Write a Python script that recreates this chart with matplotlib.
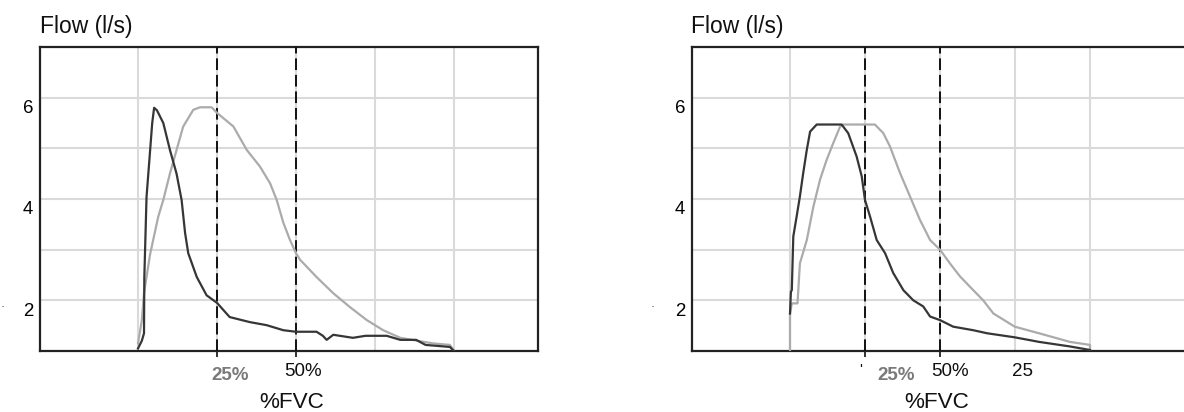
import matplotlib
matplotlib.use('Agg')
import matplotlib.pyplot as plt
import matplotlib.transforms as mtransforms

plt.rcParams['font.family'] = ['Liberation Sans', 'DejaVu Sans']

# flow-volume curves, x in %FVC, y in l/s
left_dark_x = [0, 1.2, 1.9, 2.0, 2.7, 4.5, 5.1, 6.0, 8.0, 10.1, 12.2, 13.8, 14.9, 15.9, 18.6, 21.7,
               25.0, 29.0, 35.4, 40.7, 46.0, 50.0, 56.5, 58.5, 59.7, 61.8, 68.0, 72.0, 78.7, 83.0,
               88.0, 91.0, 98.7, 100.0]
left_dark_y = [1.05, 1.2, 1.35, 2.45, 4.04, 5.5, 5.8, 5.75, 5.5, 4.97, 4.5, 3.98, 3.33, 2.93, 2.46, 2.1,
               1.95, 1.67, 1.57, 1.51, 1.41, 1.38, 1.38, 1.3, 1.22, 1.32, 1.26, 1.3, 1.3, 1.22,
               1.22, 1.12, 1.08, 1.0]
left_gray_x = [0, 1.2, 1.9, 3.8, 6.4, 8.0, 10.1, 12.8, 14.3, 17.5, 19.6, 23.3, 25.0, 30.2, 34.4, 38.6,
               41.8, 43.9, 46.0, 48.1, 50.0, 51.3, 56.5, 61.8, 67.0, 72.4, 77.6, 83.0, 93.4, 98.7, 100.0]
left_gray_y = [1.15, 1.6, 2.14, 2.9, 3.65, 3.98, 4.5, 5.1, 5.43, 5.76, 5.81, 5.81, 5.7, 5.43, 4.97, 4.64,
               4.31, 3.98, 3.53, 3.19, 2.93, 2.8, 2.46, 2.14, 1.87, 1.61, 1.41, 1.26, 1.15, 1.12, 1.0]

right_dark_x = [0, 0.3, 0.6, 1.1, 2.2, 3.3, 4.4, 5.6, 6.7, 8.9, 17.2, 19.4, 22.2, 23.9, 25.0, 26.7,
                28.9, 31.7, 34.4, 37.8, 41.1, 44.4, 46.7, 50.0, 54.4, 61.1, 65.7, 74.9, 83.0, 93.3, 100.0]
right_dark_y = [1.74, 2.17, 2.2, 3.26, 3.65, 4.05, 4.51, 4.97, 5.33, 5.47, 5.47, 5.3, 4.84, 4.45, 3.98, 3.65,
                3.19, 2.93, 2.54, 2.2, 2.0, 1.88, 1.68, 1.61, 1.48, 1.41, 1.35, 1.27, 1.18, 1.09, 1.02]
right_gray_x = [0, 0.0, 0.6, 2.5, 3.3, 5.6, 7.8, 10.0, 12.2, 14.4, 16.7, 17.8, 28.3, 31.1, 33.3, 36.7,
                40.0, 43.3, 46.7, 50.0, 53.3, 56.7, 61.1, 64.4, 67.8, 72.2, 74.9, 83.0, 93.3, 100.0, 100.0]
right_gray_y = [1.0, 1.74, 1.94, 1.94, 2.73, 3.19, 3.85, 4.38, 4.77, 5.1, 5.43, 5.47, 5.47, 5.3, 5.04, 4.51,
                4.05, 3.59, 3.19, 3.0, 2.73, 2.47, 2.2, 2.0, 1.74, 1.58, 1.48, 1.35, 1.18, 1.12, 1.0]

y_ticks = [2, 4, 6]
grid_x = [0, 75, 100]
marks_x = [25, 50]

W, H = 1184, 412
fig = plt.figure(figsize=(W / 100, H / 100), dpi=100)

dark = '#363636'
gray = '#ababab'
gridc = '#dadada'


def panel(left_px, right_px, x0_px, px_per_pct, xs):
    ax = fig.add_axes([left_px / W, 61 / H, (right_px - left_px) / W, 304 / H])
    ax.set_xlim((left_px - x0_px) / px_per_pct, (right_px - x0_px) / px_per_pct)
    ax.set_ylim(1, 7)
    ax.set_yticks(y_ticks)
    ax.set_yticks([3, 5], minor=True)
    ax.set_xticks(marks_x)
    ax.set_xticks(xs, minor=True)
    ax.set_xticklabels([])
    ax.grid(True, which='both', color=gridc, lw=1.5)
    ax.set_axisbelow(True)
    ax.tick_params(axis='y', which='both', length=0, labelsize=13.4, pad=5)
    ax.tick_params(axis='x', which='major', length=4, width=1.3, direction='out', color='#222')
    ax.tick_params(axis='x', which='minor', length=0)
    off = mtransforms.ScaledTranslation(0, -9 / 100, fig.dpi_scale_trans)
    for lab in ax.get_yticklabels():
        lab.set_transform(lab.get_transform() + off)
    for s in ax.spines.values():
        s.set_color('#222')
        s.set_linewidth(1.6)
    for m in marks_x:
        ax.axvline(m, color='#111', lw=1.4, dashes=(6, 2.5), zorder=3)
    return ax


ax1 = panel(40, 538, 138, 3.16, grid_x)
ax1.plot(left_gray_x, left_gray_y, color=gray, lw=1.6, zorder=4)
ax1.plot(left_dark_x, left_dark_y, color=dark, lw=1.6, zorder=5)

ax2 = panel(692, 1234, 790, 3.0, [0, 75, 100])
ax2.plot(right_gray_x, right_gray_y, color=gray, lw=1.6, zorder=4)
ax2.plot(right_dark_x, right_dark_y, color=dark, lw=1.6, zorder=5)


def fy(py):
    return 1 - py / H


for ax, lx in [(ax1, 40), (ax2, 691)]:
    fig.text(lx / W, fy(26), 'Flow (l/s)', fontsize=16.5, va='center', ha='left', color='#111')

# labels under the x axis
tr1 = mtransforms.blended_transform_factory(ax1.transData, fig.transFigure)
tr2 = mtransforms.blended_transform_factory(ax2.transData, fig.transFigure)

fig.text(29.1, fy(376), '25%', transform=tr1, fontsize=13.5, fontweight='bold', color='#7a7a7a',
         ha='center', va='center')
fig.text(52.2, fy(372), '50%', transform=tr1, fontsize=13.5, ha='center', va='center', color='#111')
fig.text(48.7, fy(402), '%FVC', transform=tr1, fontsize=16.2, ha='center', va='center', color='#111')

fig.text(23.7, fy(370), "'", transform=tr2, fontsize=11, ha='center', va='center', color='#111')
fig.text(35.3, fy(376), '25%', transform=tr2, fontsize=13.5, fontweight='bold', color='#7a7a7a',
         ha='center', va='center')
fig.text(53.3, fy(372), '50%', transform=tr2, fontsize=13.5, ha='center', va='center', color='#111')
fig.text(74.0, fy(372), '25', transform=tr2, fontsize=13.5, ha='left', va='center', color='#111')
fig.text(49.0, fy(402), '%FVC', transform=tr2, fontsize=16.2, ha='center', va='center', color='#111')

fig.text(3 / W, fy(307), '·', fontsize=9, ha='center', va='center', color='#333')
fig.text(653 / W, fy(307), '·', fontsize=9, ha='center', va='center', color='#333')

fig.savefig('out.png', dpi=100)
